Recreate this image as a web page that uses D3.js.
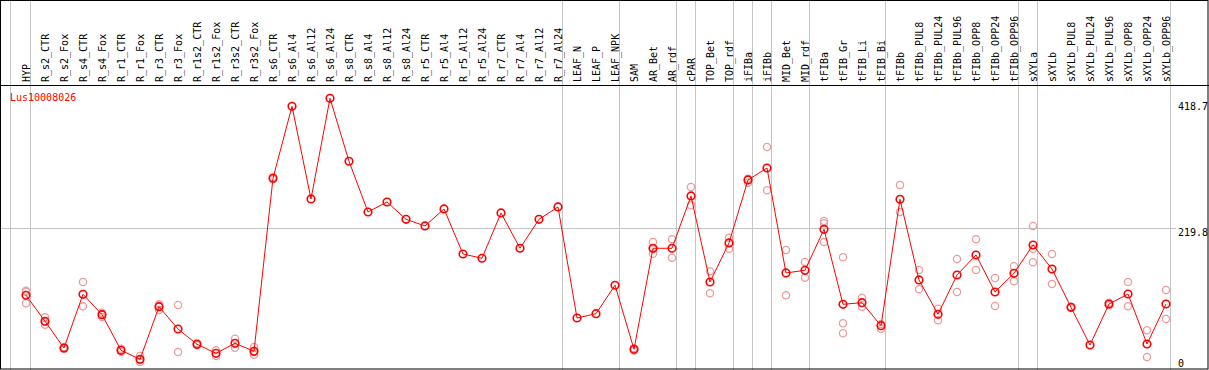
<!DOCTYPE html>
<html>
<head>
<meta charset="utf-8">
<script src="https://cdn.jsdelivr.net/npm/d3@7"></script>
<style>
  body { margin: 0; background: #fff; }
  text { font-family: "DejaVu Sans Mono", "Liberation Mono", monospace; font-size: 10px; }
</style>
</head>
<body>
<div id="chart-area"></div>
<script>
// sample names (columns)
var samples = ["HYP","R_s2_CTR","R_s2_Fox","R_s4_CTR","R_s4_Fox","R_r1_CTR","R_r1_Fox","R_r3_CTR","R_r3_Fox",
  "R_r1s2_CTR","R_r1s2_Fox","R_r3s2_CTR","R_r3s2_Fox","R_s6_CTR","R_s6_Al4","R_s6_Al12","R_s6_Al24",
  "R_s8_CTR","R_s8_Al4","R_s8_Al12","R_s8_Al24","R_r5_CTR","R_r5_Al4","R_r5_Al12","R_r5_Al24",
  "R_r7_CTR","R_r7_Al4","R_r7_Al12","R_r7_Al24","LEAF_N","LEAF_P","LEAF_NPK","SAM","AR_Bet","AR_rdf",
  "cPAR","TOP_Bet","TOP_rdf","iFIBa","iFIBb","MID_Bet","MID_rdf","tFIBa","tFIB_Gr","tFIB_Li","tFIB_Bi",
  "tFIBb","tFIBb_PUL8","tFIBb_PUL24","tFIBb_PUL96","tFIBb_OPP8","tFIBb_OPP24","tFIBb_OPP96",
  "sXYLa","sXYLb","sXYLb_PUL8","sXYLb_PUL24","sXYLb_PUL96","sXYLb_OPP8","sXYLb_OPP24","sXYLb_OPP96"];

// mean expression per sample
var means = [117.4,77.6,36.7,118.9,87.7,33.2,19.4,99.9,65.8,42.4,28.6,43.9,31.7,296.4,406.5,264.7,418.7,
  322.4,244.8,260.1,233.6,223.4,249.4,180.5,174.0,243.3,189.3,233.6,252.5,82.6,89.2,132.7,34.7,189.3,189.3,
  269.3,137.7,197.4,293.8,312.1,151.5,155.6,218.3,103.6,106.0,70.8,264.2,140.8,88.3,148.4,179.0,122.4,151.0,
  194.3,157.6,99.0,41.3,104.0,119.3,42.8,104.0];

// replicate values per sample
var replicates = [[124.4,105.1,122.7],[83.7,72.4,76.7],[38.0,35.2,36.9],[137.7,100.5],[90.7,84.2,88.2],
  [35.6,31.1],[24.5,15.3,18.4],[103.6,94.9,101.2],[102.5,30.6],[43.9,40.9],[33.2,24.5],[50.9,37.2],
  [38.3,26.5,30.3],[298.0,294.8],[],[],[],[],[],[],[],[],[],[],[],[],[],[],[],[],[],[],
  [36.5,33.0],[198.9,181.0,188.0],[203.0,174.9],[283.1,255.1],[154.1,120.4],[205.5,188.6],[295.7,289.6],
  [344.3,278.0],[186.7,117.4],[168.3,144.3],[231.0,227.5,198.9],[175.5,74.5,59.2],[113.7,99.9],[73.4,66.2],
  [286.1,244.8],[156.1,126.5],[96.8,79.1],[172.9,122.4],[203.0,156.1],[143.8,101.0],[161.7,138.8],
  [223.4,188.6,167.8],[180.5,134.6],[100.0,98.0],[],[106.0,102.1],[137.7,100.5],[63.8,23.0],[125.5,81.1]];

// last sample of each group (gray separator after it)
var groupEnds = ["HYP","R_r7_Al24","LEAF_NPK","AR_rdf","cPAR","TOP_rdf","iFIBa","iFIBb","MID_rdf",
  "tFIB_Bi","tFIBb_OPP96","sXYLa","sXYLb_OPP96"];

var yTicks = [0, 219.8, 418.7];
var geneName = "Lus10008026";

var width = 1209, height = 370;
var headerH = 85;

var svg = d3.select("#chart-area").append("svg")
  .attr("width", width)
  .attr("height", height);

var x = d3.scalePoint().domain(samples).range([26, 1166]);
var step = x.step();
var y = d3.scaleLinear().domain([0, 418.7]).range([372, 98.3]);

// gray group separators
var sepX = [x(samples[0]) - step + 3].concat(groupEnds.map(function(s) { return x(s) + 4; }));
svg.selectAll(".sep").data(sepX).enter().append("line")
  .attr("class", "sep")
  .attr("x1", function(d) { return Math.round(d) + 0.5; })
  .attr("x2", function(d) { return Math.round(d) + 0.5; })
  .attr("y1", 0).attr("y2", height)
  .attr("stroke", "#c4c4c4").attr("stroke-width", 1);

// middle grid line
svg.append("line")
  .attr("x1", 1).attr("x2", 1176)
  .attr("y1", Math.round(y(219.8)) + 0.5).attr("y2", Math.round(y(219.8)) + 0.5)
  .attr("stroke", "#c4c4c4");

// borders
svg.append("rect").attr("x", 0.5).attr("y", 0.5).attr("width", width - 1.5).attr("height", height - 1.5)
  .attr("fill", "none").attr("stroke", "#000").attr("stroke-width", 1);
svg.append("line").attr("x1", 0).attr("x2", 1).attr("y1", 0.5).attr("y2", 0.5);
svg.append("line")
  .attr("x1", 0).attr("x2", width).attr("y1", headerH + 0.5).attr("y2", headerH + 0.5)
  .attr("stroke", "#000");

// column labels
svg.selectAll(".lab").data(samples).enter().append("text")
  .attr("class", "lab")
  .attr("transform", function(d) { return "translate(" + (x(d) + 3.5) + ",82) rotate(-90)"; })
  .attr("fill", "#000")
  .text(function(d) { return d; });

// y labels on the right
svg.selectAll(".ylab").data(yTicks).enter().append("text")
  .attr("class", "ylab")
  .attr("x", 1178)
  .attr("y", function(d) { return Math.min(Math.max(y(d), 102), 359) + 8; })
  .attr("fill", "#000")
  .text(function(d) { return d; });

// gene name
svg.append("text").attr("x", 10).attr("y", 101).attr("fill", "red").text(geneName);

// replicate points
var reps = [];
replicates.forEach(function(r, i) {
  r.forEach(function(v) { reps.push({s: samples[i], v: v}); });
});
svg.selectAll(".rep").data(reps).enter().append("circle")
  .attr("class", "rep")
  .attr("cx", function(d) { return x(d.s); })
  .attr("cy", function(d) { return y(d.v); })
  .attr("r", 3.6)
  .attr("fill", "none")
  .attr("stroke", "#ee9a9a")
  .attr("stroke-width", 1.3);

// mean line
var line = d3.line()
  .x(function(d, i) { return x(samples[i]); })
  .y(function(d) { return y(d); });
svg.append("path").datum(means)
  .attr("d", line)
  .attr("fill", "none")
  .attr("stroke", "red")
  .attr("stroke-width", 1);

svg.selectAll(".pt").data(means).enter().append("circle")
  .attr("class", "pt")
  .attr("cx", function(d, i) { return x(samples[i]); })
  .attr("cy", function(d) { return y(d); })
  .attr("r", 3.8)
  .attr("fill", "none")
  .attr("stroke", "red")
  .attr("stroke-width", 1.6);
</script>
</body>
</html>
